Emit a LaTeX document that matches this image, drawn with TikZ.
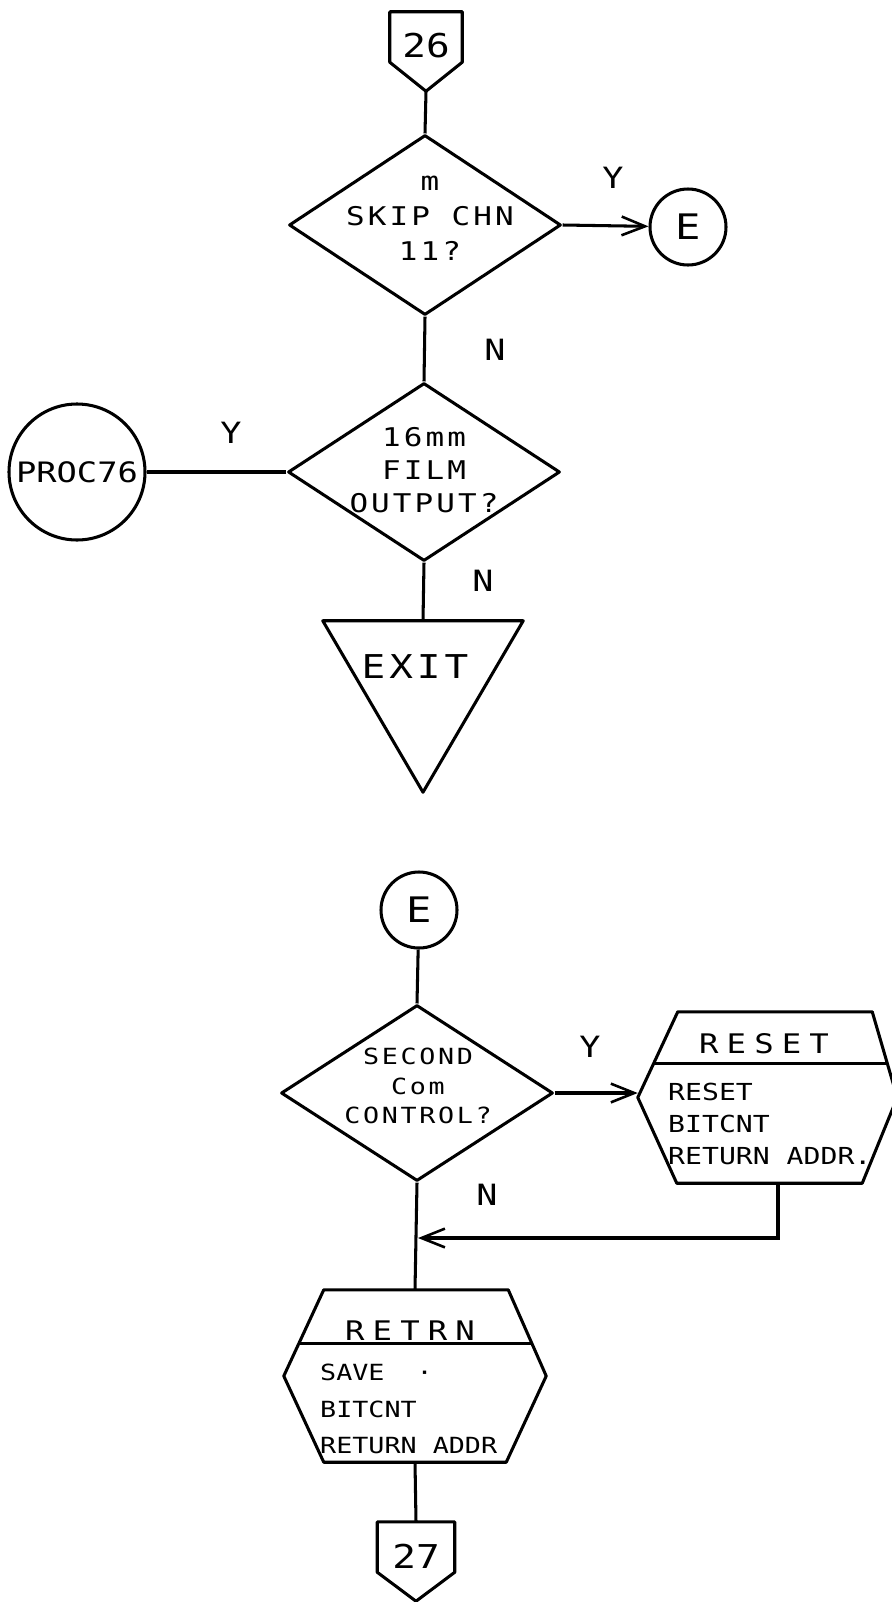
\documentclass[tikz,border=0pt]{standalone}
\usepackage{fontspec}
\setmainfont{DejaVu Sans Mono}[FakeStretch=1.2]
\newfontfamily\headfont{DejaVu Sans Mono}[FakeStretch=1.2,LetterSpace=30]
\newfontfamily\wideface{DejaVu Sans Mono}[FakeStretch=1.2,LetterSpace=12]
\usetikzlibrary{shapes.geometric,arrows.meta,calc}
\newlength\pxlen \setlength\pxlen{0.03cm}
\newcommand\fs[2]{\fontsize{#1}{#2}\selectfont}

\tikzset{
  outline/.style={draw, line width=2.6pt, line join=round},
  link/.style={line width=2.6pt},
  arr/.style={link, -{Straight Barb[length=20pt,width=16pt,line width=2.2pt]}},
  decision/.style={diamond, outline, inner sep=0pt, minimum width=272\pxlen, minimum height=178\pxlen},
  connector/.style={circle, outline, inner sep=0pt},
  frame/.style={rectangle, inner sep=0pt},
  pagebox/.style={frame, minimum height=50\pxlen},
  txt/.style={inner sep=0pt, align=center},
  yn/.style={txt, font=\fs{25}{25}},
}

% off-page connector: square part with a downward point
% #1 name, #2 centre of the square part, #3 width, #4 label
\newcommand\offpagemark[4]{%
  \node[pagebox, minimum width=#3\pxlen] (#1) at (#2) {};
  \draw[outline] (#1.north west) -- (#1.north east) -- (#1.south east)
     -- ($(#1.south)+(0,29)$) coordinate (#1-tip) -- (#1.south west) -- cycle;
  \node[txt, font=\fs{28}{28}] (#1-txt) at ($(#1)+(0,9)$) {#4};
}

\begin{document}
\begin{tikzpicture}[x=0.03cm,y=-0.03cm]
  \fill[white] (0,0) rectangle (891,1602);
  \useasboundingbox (0,0) rectangle (891,1602);

  % ---------- upper chart ----------
  \offpagemark{c26}{426,37}{72}{26}

  \node[decision, minimum height=180\pxlen] (d1) at (425,225) {};
  \node[txt, font=\wideface\fs{22}{30}] (d1-txt) at (430,218) {m\\SKIP CHN\\11?};

  \node[connector, minimum size=76\pxlen] (E1) at (688,227) {};
  \node[txt, font=\fs{30}{30}] (E1-txt) at (E1) {E};

  \node[decision] (d2) at (424,472) {};
  \node[txt, font=\wideface\fs{22}{28}] (d2-txt) at (424,470) {16mm\\FILM\\OUTPUT?};

  \node[connector, minimum size=136\pxlen] (proc) at (77,472) {};
  \node[txt, font=\fs{24}{24}] (proc-txt) at (proc) {PROC76};

  \node[frame, minimum width=200\pxlen, minimum height=171\pxlen] (exit) at (423,706.5) {};
  \draw[outline] (exit.north west) -- (exit.north east) -- (exit.south) -- cycle;
  \node[txt, font=\wideface\fs{28}{28}] (exit-txt) at (415,667) {EXIT};

  \node[yn] (y1) at (613,178) {Y};
  \node[yn] (n1) at (495,350) {N};
  \node[yn] (y2) at (231,433) {Y};
  \node[yn] (n2) at (483,581) {N};

  \draw[link] (c26-tip) -- (d1.north);
  \draw[arr] (d1.east) -- (E1);
  \draw[link] (d1.south) -- (d2.north);
  \draw[link] (d2.west) -- (proc);
  \draw[link] (d2.south) -- (exit.north);

  % ---------- lower chart ----------
  \node[connector, minimum size=76\pxlen] (E2) at (419,910) {};
  \node[txt, font=\fs{30}{30}] (E2-txt) at (E2) {E};

  \node[decision, minimum height=176\pxlen] (d3) at (417,1093) {};
  \node[txt, font=\wideface\fs{19}{25}] (d3-txt) at (418,1086) {SECOND\\Com\\CONTROL?};

  % RESET predefined-process box
  \node[frame, minimum width=259\pxlen, minimum height=171\pxlen] (reset) at (767.5,1097.5) {};
  \draw[outline] ($(reset.north west)+(40,0)$) coordinate (rs-a)
     -- ($(reset.north east)+(-25,0)$) coordinate (rs-b) -- (reset.east)
     -- ($(reset.south east)+(-35,0)$) -- ($(reset.south west)+(39,0)$)
     -- (reset.west) -- cycle;
  \draw[outline] ($(rs-a)!0.6!(reset.west)$) -- ($(rs-b)!0.6!(reset.east)$);
  \node[txt, font=\headfont\fs{23}{23}] (reset-head) at (764,1044) {RESET};
  \node[txt, align=left, anchor=west, font=\fs{20}{27}] (reset-body) at (668,1124)
     {RESET\\BITCNT\\RETURN ADDR.};

  % RETRN predefined-process box
  \node[frame, minimum width=262\pxlen, minimum height=172\pxlen] (retrn) at (415,1376) {};
  \draw[outline] ($(retrn.north west)+(40,0)$) coordinate (rt-a)
     -- ($(retrn.north east)+(-38,0)$) coordinate (rt-b) -- (retrn.east)
     -- ($(retrn.south east)+(-40,0)$) -- ($(retrn.south west)+(40,0)$)
     -- (retrn.west) -- cycle;
  \draw[outline] ($(rt-a)!0.62!(retrn.west)$) -- ($(rt-b)!0.62!(retrn.east)$);
  \node[txt, font=\headfont\fs{23}{23}] (retrn-head) at (410,1331) {RETRN};
  \node[txt, align=left, anchor=west, font=\fs{19}{31}] (retrn-body) at (320,1409)
     {SAVE\ \ ·\\BITCNT\\RETURN ADDR};

  \offpagemark{c27}{416,1547}{77}{27}

  \coordinate (join) at (418,1238);

  \node[yn] (y3) at (590,1047) {Y};
  \node[yn] (n3) at (487,1195) {N};

  \draw[link] (E2) -- (d3.north);
  \draw[arr] (d3.east) -- (d3.east -| reset.west);
  \draw[link] (d3.south) -- (retrn.north);
  \draw[arr] ($(reset.south)+(10.5,0)$) |- (join);
  \draw[link] (retrn.south) -- (c27.north);
\end{tikzpicture}
\end{document}
